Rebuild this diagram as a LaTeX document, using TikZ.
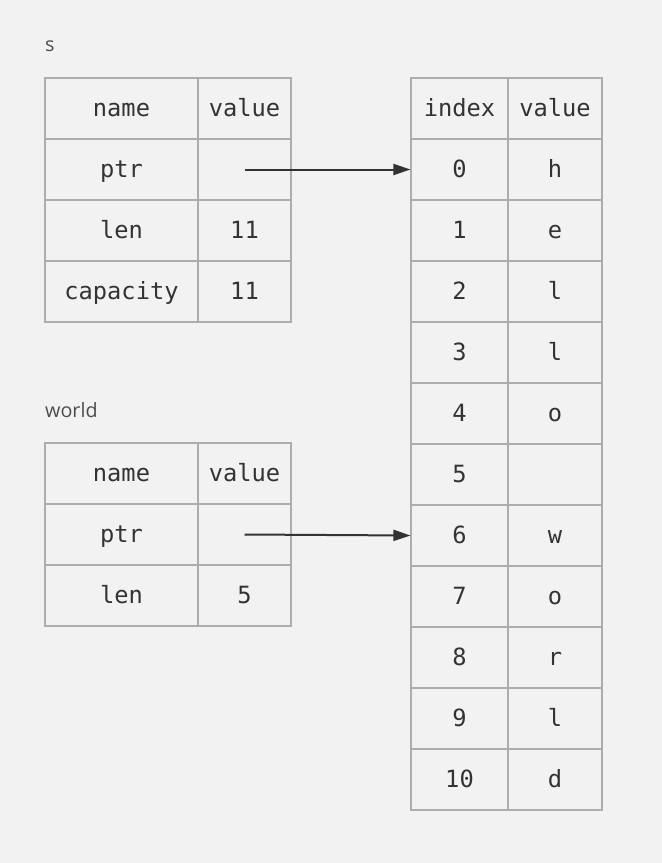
\documentclass[tikz,border=0pt]{standalone}
\usepackage{fontspec}
\setmonofont{DejaVu Sans Mono}
\newfontfamily\labelfont{Open Sans}
\usetikzlibrary{arrows.meta}
\definecolor{bg}{HTML}{F2F2F2}
\definecolor{gridgray}{HTML}{ADADAD}
\definecolor{ink}{HTML}{333333}
\definecolor{labelgray}{HTML}{4D4D4D}
\begin{document}
\begin{tikzpicture}[x=1bp,y=-1bp,
  cell/.style={draw=gridgray, line width=1.1bp, inner sep=0pt, minimum height=61bp,
    text height=15bp, text depth=0pt,
    font=\fontsize{23.8}{24}\selectfont\ttfamily, text=ink},
  namecol/.style={cell, minimum width=153bp},
  valcol/.style={cell, minimum width=93bp},
  idxcol/.style={cell, minimum width=97bp},
  arrcol/.style={cell, minimum width=94bp},
  title/.style={font=\fontsize{19.8}{20}\selectfont\labelfont, text=labelgray, anchor=base west, inner sep=0pt},
  pointer/.style={draw=ink, line width=2bp, -{Triangle[length=17bp,width=11bp]}}]
\fill[bg] (0,0) rectangle (662,863);
\useasboundingbox (0,0) rectangle (662,863);

% table s
\node[title] (stitle) at (45,51) {s};
\foreach \n/\v [count=\k from 0] in {name/value,ptr/{},len/11,capacity/11}{
  \node[namecol] (sn\k) at (121.5,{108.5+61*\k}) {\n};
  \node[valcol] (sv\k) at (244.5,{108.5+61*\k}) {\v};
}

% table world
\node[title] (wtitle) at (45,417) {world};
\foreach \n/\v [count=\k from 0] in {name/value,ptr/{},len/5}{
  \node[namecol] (wn\k) at (121.5,{473.5+61*\k}) {\n};
  \node[valcol] (wv\k) at (244.5,{473.5+61*\k}) {\v};
}

% array
\foreach \i/\v [count=\k from 0] in {index/value,0/h,1/e,2/l,3/l,4/o,5/{},6/w,7/o,8/r,9/l,10/d}{
  \node[idxcol] (ai\k) at (459.5,{108.5+61*\k}) {\i};
  \node[arrcol] (av\k) at (555,{108.5+61*\k}) {\v};
}

% pointers
\draw[pointer] (sv1.center) -- (ai1.west);
\draw[pointer] (wv1.center) -- (ai7.west);
\end{tikzpicture}
\end{document}
